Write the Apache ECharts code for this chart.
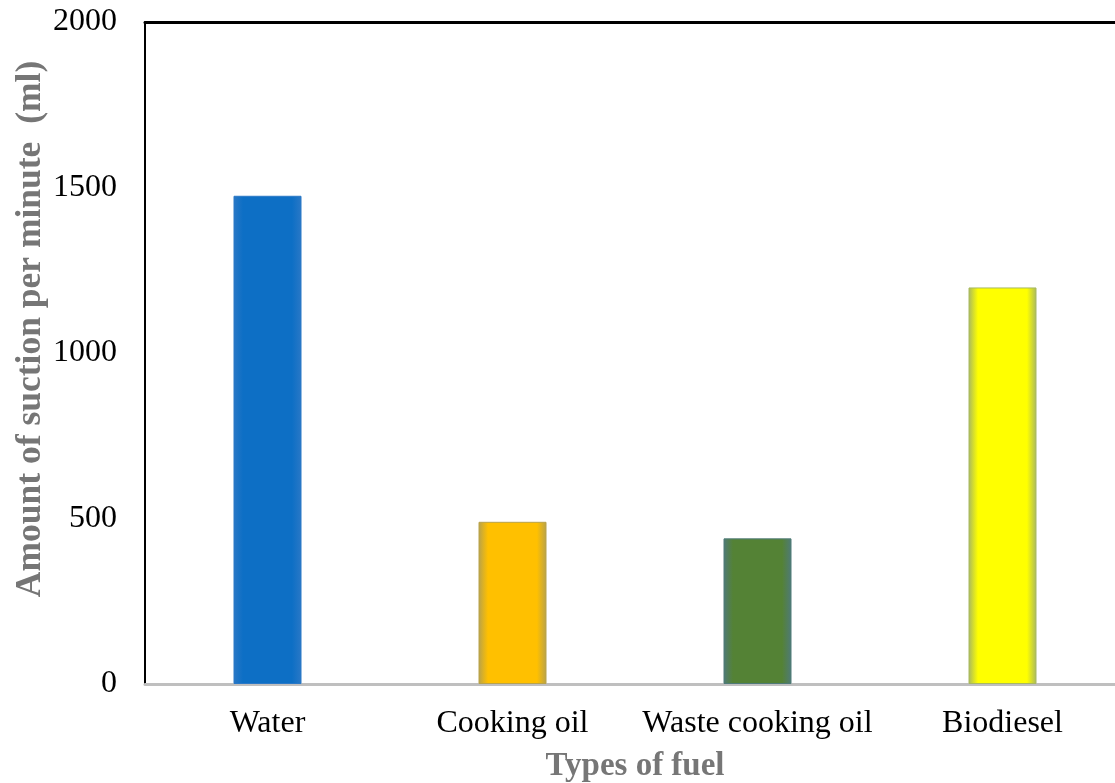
<!DOCTYPE html>
<html>
<head>
<meta charset="utf-8">
<script src="https://cdn.jsdelivr.net/npm/echarts@6/dist/echarts.min.js"></script>
<style>
html,body{margin:0;padding:0;background:#fff;}
#chart{width:1115px;height:783px;}
</style>
</head>
<body>
<div id="chart"></div>
<script>
var categories = ['Water', 'Cooking oil', 'Waste cooking oil', 'Biodiesel'];
var suction = [1475, 490, 440, 1198];
var yTicks = [0, 500, 1000, 1500, 2000];

var barFill = [
  {edge: '#2a78c6', main: '#0d6fc5'},
  {edge: '#b8a24a', main: '#ffc000'},
  {edge: '#4f7a78', main: '#548235'},
  {edge: '#a8b860', main: '#ffff00'}
];

function grad(f) {
  return new echarts.graphic.LinearGradient(0, 0, 1, 0, [
    {offset: 0, color: f.edge},
    {offset: 0.14, color: f.main},
    {offset: 0.86, color: f.main},
    {offset: 1, color: f.edge}
  ]);
}

var chart = echarts.init(document.getElementById('chart'));
var serif = '"Liberation Serif", "Times New Roman", serif';

chart.setOption({
  animation: false,
  grid: {left: 145, top: 22, width: 980, height: 662, containLabel: false, outerBoundsMode: 'none'},
  xAxis: [{
    type: 'category',
    data: categories,
    axisLine: {show: true, lineStyle: {color: '#bfbfbf', width: 3}},
    axisTick: {show: false},
    axisLabel: {color: '#000', fontFamily: serif, fontSize: 32, margin: 24, interval: 0, hideOverlap: false},
    name: 'Types of fuel',
    nameLocation: 'middle',
    nameGap: 66,
    nameTextStyle: {color: '#767676', fontFamily: serif, fontSize: 33, fontWeight: 'bold'}
  }, {
    type: 'category',
    position: 'top',
    data: categories,
    axisLine: {show: true, lineStyle: {color: '#000', width: 3}},
    axisTick: {show: false},
    axisLabel: {show: false}
  }],
  yAxis: {
    type: 'value',
    min: yTicks[0],
    max: yTicks[yTicks.length - 1],
    interval: 500,
    axisLine: {show: true, lineStyle: {color: '#000', width: 2}},
    axisTick: {show: false},
    splitLine: {show: false},
    axisLabel: {color: '#000', fontFamily: serif, fontSize: 32, margin: 28, formatter: function (v) { return String(v); }}
  },
  graphic: [{
    type: 'text',
    x: 31,
    y: 329,
    rotation: Math.PI / 2,
    style: {
      text: 'Amount of suction per minute  (ml)',
      font: 'bold 35.5px ' + serif,
      fill: '#767676',
      align: 'center',
      verticalAlign: 'middle'
    }
  }],
  series: [{
    type: 'bar',
    barWidth: 68,
    data: suction.map(function (v, i) {
      return {value: v, itemStyle: {color: grad(barFill[i]), borderColor: barFill[i].edge, borderWidth: 1}};
    })
  }]
});
</script>
</body>
</html>
